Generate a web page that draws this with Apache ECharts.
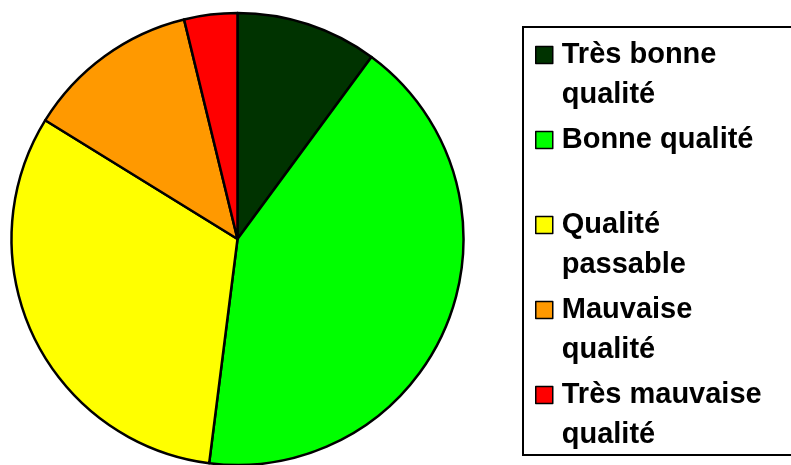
<!DOCTYPE html>
<html>
<head>
<meta charset="utf-8">
<script src="https://cdn.jsdelivr.net/npm/echarts@6/dist/echarts.min.js"></script>
<style>
  html, body { margin: 0; padding: 0; background: #fff; }
  #chart { width: 791px; height: 465px; }
</style>
</head>
<body>
<div id="chart"></div>
<script>
const categories = ['Très bonne qualité', 'Bonne qualité', 'Qualité passable', 'Mauvaise qualité', 'Très mauvaise qualité']
const values = [10.1, 41.9, 31.8, 12.4, 3.8]
const colors = ['#003300', '#00FF00', '#FFFF00', '#FF9900', '#FF0000']
// libellés de légende : ligne vide en tête pour aligner le carré sur la 1re ligne
const legendLabels = {
  'Très bonne qualité': '\nTrès bonne\nqualité',
  'Bonne qualité': '\nBonne qualité\n',
  'Qualité passable': '\nQualité\npassable',
  'Mauvaise qualité': '\nMauvaise\nqualité',
  'Très mauvaise qualité': '\nTrès mauvaise\nqualité'
}

const chart = echarts.init(document.getElementById('chart'))
chart.setOption({
  animation: false,
  color: colors,
  graphic: [
    {
      // cadre de la légende
      type: 'rect',
      shape: { x: 523, y: 27, width: 300, height: 428 },
      style: { fill: 'none', stroke: '#000', lineWidth: 2 },
      z: 10
    }
  ],
  legend: {
    orient: 'vertical',
    left: 535,
    top: -5,
    padding: 0,
    itemGap: -35,
    itemWidth: 17,
    itemHeight: 17,
    icon: 'rect',
    itemStyle: { borderColor: '#000', borderWidth: 1.5 },
    selectedMode: false,
    data: categories,
    formatter: (name) => legendLabels[name],
    textStyle: {
      fontFamily: 'Liberation Sans, Arial, sans-serif',
      fontWeight: 'bold',
      fontSize: 29,
      lineHeight: 40,
      color: '#000',
      padding: [0, 0, 0, 4]
    }
  },
  series: [
    {
      type: 'pie',
      center: [237.5, 239],
      radius: 226,
      startAngle: 90,
      clockwise: true,
      label: { show: false },
      labelLine: { show: false },
      emphasis: { disabled: true },
      itemStyle: { borderColor: '#000', borderWidth: 2.5 },
      data: categories.map((c, i) => ({ name: c, value: values[i] }))
    }
  ]
})
</script>
</body>
</html>
